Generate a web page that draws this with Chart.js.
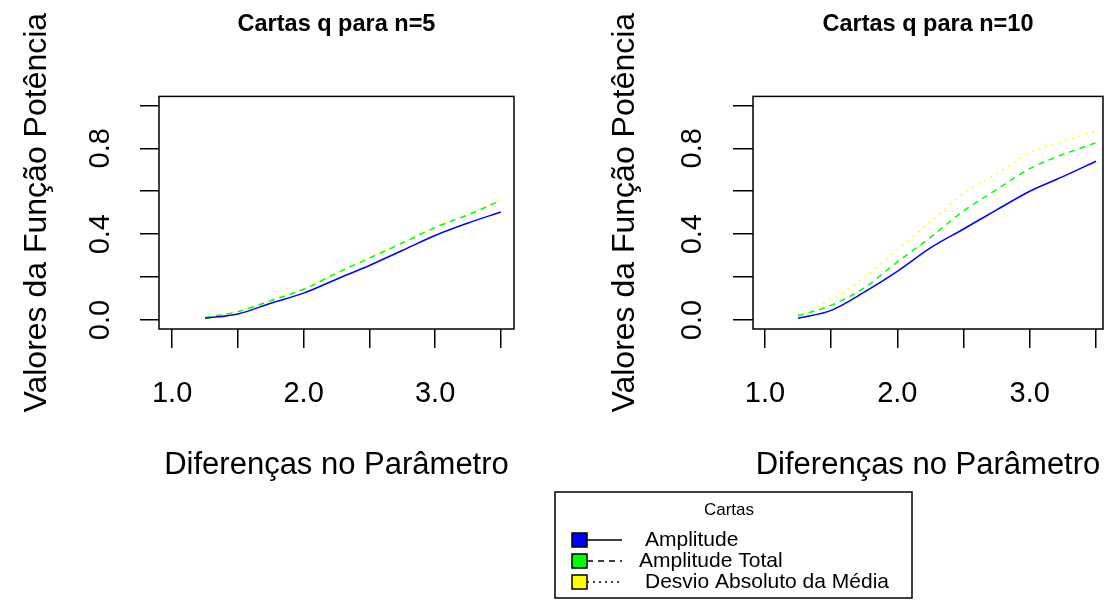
<!DOCTYPE html>
<html>
<head>
<meta charset="utf-8">
<script src="https://cdn.jsdelivr.net/npm/chart.js@4/dist/chart.umd.min.js"></script>
<style>
  body { margin: 0; background: #fff; }
  #wrap { position: relative; width: 1108px; height: 608px; background: #fff; overflow: hidden; }
  #left { position: absolute; left: 0; top: 0; }
  #right { position: absolute; left: 554px; top: 0; }
</style>
</head>
<body>
<div id="wrap">
  <canvas id="left" width="554" height="490"></canvas>
  <canvas id="right" width="554" height="608"></canvas>
</div>
<script>
// dados
const diferencas = [1.25, 1.5, 1.75, 2.0, 2.25, 2.5, 2.75, 3.0, 3.25, 3.5];
const n5Amplitude = [0.008, 0.028, 0.078, 0.125, 0.19, 0.254, 0.324, 0.394, 0.452, 0.503];
const n5AmplitudeTotal = [0.011, 0.039, 0.09, 0.143, 0.218, 0.288, 0.358, 0.431, 0.49, 0.557];
const n5Desvio = [0.012, 0.041, 0.092, 0.146, 0.221, 0.291, 0.361, 0.434, 0.494, 0.561];
const n10Amplitude = [0.008, 0.045, 0.13, 0.227, 0.336, 0.424, 0.513, 0.6, 0.668, 0.74];
const n10AmplitudeTotal = [0.02, 0.068, 0.15, 0.27, 0.385, 0.508, 0.608, 0.705, 0.771, 0.826];
const n10Desvio = [0.02, 0.097, 0.195, 0.328, 0.456, 0.59, 0.68, 0.779, 0.833, 0.88];

const xTicks = [1.0, 1.5, 2.0, 2.5, 3.0, 3.5];
const xLabels = [1.0, 2.0, 3.0];
const yTicks = [0, 0.2, 0.4, 0.6, 0.8, 1.0];
const yLabels = [0, 0.4, 0.8];

const seriesNames = ['Amplitude', 'Amplitude Total', 'Desvio Absoluto da Média'];
const seriesColors = ['#0000FF', '#00FF00', '#FFFF00'];
const seriesDash = [[], [6, 5], [2, 5]];

const FONT = "'Liberation Sans', Arial, sans-serif";

function pts(vals) {
  return diferencas.map((x, i) => ({ x: x, y: vals[i] }));
}

function makeDatasets(values) {
  return values.map((v, i) => ({
    label: seriesNames[i],
    data: pts(v),
    borderColor: seriesColors[i],
    backgroundColor: seriesColors[i],
    borderDash: seriesDash[i],
    borderWidth: 1.5,
    pointRadius: 0,
    fill: false,
    cubicInterpolationMode: 'monotone'
  }));
}

const boxPlugin = {
  id: 'box',
  afterDraw(chart) {
    const a = chart.chartArea, ctx = chart.ctx;
    ctx.save();
    ctx.strokeStyle = '#000';
    ctx.lineWidth = 1.5;
    ctx.strokeRect(a.left, a.top, a.right - a.left, a.bottom - a.top);
    ctx.restore();
  }
};

const legendPlugin = {
  id: 'rLegend',
  afterDraw(chart) {
    const ctx = chart.ctx;
    const bx = 1, by = 492, bw = 357, bh = 106;
    ctx.save();
    ctx.strokeStyle = '#000';
    ctx.lineWidth = 1.5;
    ctx.strokeRect(bx, by, bw, bh);
    ctx.fillStyle = '#000';
    ctx.textBaseline = 'middle';
    ctx.textAlign = 'center';
    ctx.font = '17px ' + FONT;
    ctx.fillText('Cartas', 175, 510);
    ctx.textAlign = 'left';
    ctx.font = '21px ' + FONT;
    const rows = [540, 561, 582];
    const textX = [91, 85, 91];
    chart.data.datasets.forEach((ds, i) => {
      const y = rows[i];
      ctx.setLineDash([]);
      ctx.fillStyle = ds.backgroundColor;
      ctx.fillRect(18, y - 7, 15, 14);
      ctx.lineWidth = 1.5;
      ctx.strokeStyle = '#000';
      ctx.strokeRect(18, y - 7, 15, 14);
      ctx.setLineDash(i === 0 ? [] : (i === 1 ? [6, 5] : [2, 4]));
      ctx.beginPath();
      ctx.moveTo(33, y);
      ctx.lineTo(68, y);
      ctx.stroke();
      ctx.setLineDash([]);
      ctx.fillStyle = '#000';
      ctx.fillText(ds.label, textX[i], y);
    });
    ctx.restore();
  }
};

function makeChart(el, title, values, o) {
  return new Chart(el, {
    type: 'line',
    data: { datasets: makeDatasets(values) },
    plugins: o.extra ? [boxPlugin, o.extra] : [boxPlugin],
    options: {
      responsive: false,
      animation: false,
      devicePixelRatio: 1,
      layout: { padding: { left: 0, top: 0, right: o.padRight, bottom: o.padBottom } },
      plugins: {
        legend: { display: false },
        tooltip: { enabled: false },
        title: {
          display: true,
          text: title,
          fullSize: false,
          color: '#000',
          font: { family: FONT, size: 23.5, weight: 'bold', lineHeight: 1.2 },
          padding: { top: 10, bottom: 58.2 }
        }
      },
      scales: {
        x: {
          type: 'linear',
          min: o.xMin,
          max: o.xMax,
          afterBuildTicks: s => { s.ticks = xTicks.map(v => ({ value: v })); },
          afterFit: s => { s.height = 161; s.paddingLeft = 0; s.paddingRight = 0; },
          border: { display: false },
          grid: { drawOnChartArea: false, drawTicks: true, tickLength: 19, color: '#000', lineWidth: 1.5 },
          ticks: {
            autoSkip: false,
            maxRotation: 0,
            color: '#000',
            padding: 29,
            font: { family: FONT, size: 29 },
            callback: v => xLabels.some(l => Math.abs(l - v) < 1e-9) ? v.toFixed(1) : ''
          },
          title: {
            display: true,
            text: 'Diferenças no Parâmetro',
            color: '#000',
            font: { family: FONT, size: 31, lineHeight: 1.2 },
            padding: { top: 0, bottom: 6 }
          }
        },
        y: {
          min: -0.042,
          max: 1.042,
          afterBuildTicks: s => { s.ticks = yTicks.map(v => ({ value: v })); },
          afterFit: s => { s.width = o.yWidth; s.paddingTop = 0; s.paddingBottom = 0; },
          border: { display: false },
          grid: { drawOnChartArea: false, drawTicks: true, tickLength: o.yTick, color: '#000', lineWidth: 1.5 },
          ticks: {
            autoSkip: false,
            minRotation: 90,
            maxRotation: 90,
            crossAlign: 'center',
            color: '#000',
            padding: o.yPad,
            font: { family: FONT, size: 29 },
            callback: v => yLabels.some(l => Math.abs(l - v) < 1e-9) ? v.toFixed(1) : ''
          },
          title: {
            display: true,
            text: 'Valores da Função Potência',
            color: '#000',
            font: { family: FONT, size: 32, lineHeight: 1.2 },
            padding: { top: o.yTitlePad, bottom: 0 }
          }
        }
      }
    }
  });
}

makeChart(document.getElementById('left'), 'Cartas q para n=5',
  [n5Amplitude, n5AmplitudeTotal, n5Desvio],
  { padRight: 40, padBottom: 0, xMin: 0.9, xMax: 3.6, yWidth: 159, yTick: 19, yPad: 19, yTitlePad: 18 });

makeChart(document.getElementById('right'), 'Cartas q para n=10',
  [n10Amplitude, n10AmplitudeTotal, n10Desvio],
  { padRight: 5, padBottom: 118, xMin: 0.91, xMax: 3.553, yWidth: 199, yTick: 20, yPad: 20, yTitlePad: 52, extra: legendPlugin });
</script>
</body>
</html>
